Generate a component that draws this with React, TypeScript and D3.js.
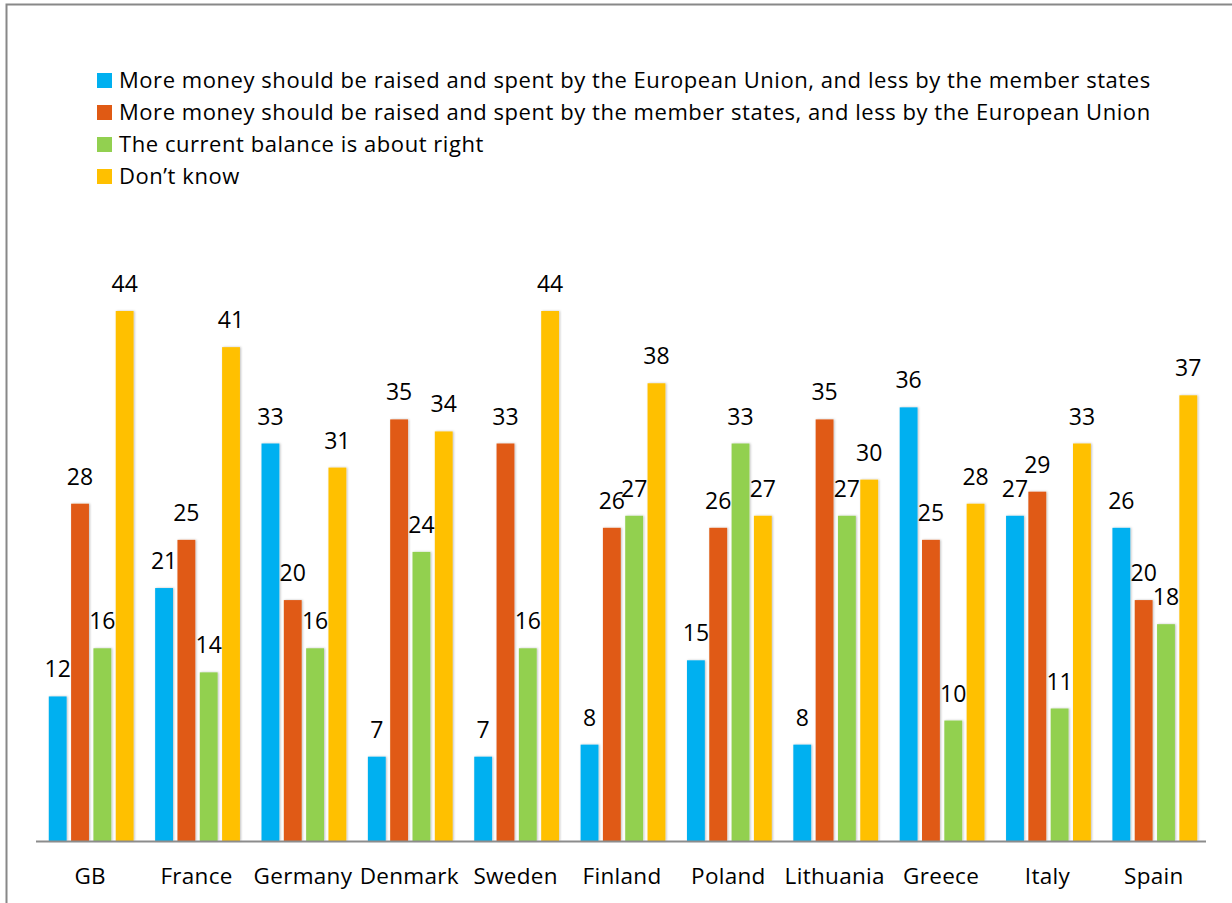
import React, { useEffect, useRef } from "react";
import * as d3 from "d3";

// countries along the x axis
const countries = [
  "GB", "France", "Germany", "Denmark", "Sweden", "Finland",
  "Poland", "Lithuania", "Greece", "Italy", "Spain",
];

const seriesNames = [
  "More money should be raised and spent by the European Union, and less by the member states",
  "More money should be raised and spent by the member states, and less by the European Union",
  "The current balance is about right",
  "Don\u2019t know",
];

const moreEU = [12, 21, 33, 7, 7, 8, 15, 8, 36, 27, 26];
const moreStates = [28, 25, 20, 35, 33, 26, 26, 35, 25, 29, 20];
const balanceRight = [16, 14, 16, 24, 16, 27, 33, 27, 10, 11, 18];
const dontKnow = [44, 41, 31, 34, 44, 38, 27, 30, 28, 33, 37];

const colors = ["#00B0F0", "#E05A14", "#92D050", "#FFC000"];

export default function App() {
  const ref = useRef<SVGGElement>(null);

  useEffect(() => {
    const svg = d3.select(ref.current);
    svg.selectAll("*").remove();
    const font = "'Open Sans', sans-serif";

    const series = [moreEU, moreStates, balanceRight, dontKnow];

    // chart frame, top and left edges show
    svg.append("rect")
      .attr("x", 6.5).attr("y", 4.5)
      .attr("width", 1300).attr("height", 1000)
      .attr("fill", "none")
      .attr("stroke", "#888")
      .attr("stroke-width", 2);

    const x0 = d3.scaleBand<string>().domain(countries).range([36, 1206]).paddingInner(0).paddingOuter(0);
    const x1 = d3.scaleBand<number>().domain([0, 1, 2, 3]).range([0, 84.8]).paddingInner(0.2).paddingOuter(0);
    const y = d3.scaleLinear().domain([0, 44]).range([841, 311]);

    const defs = svg.append("defs");
    const filter = defs.append("filter").attr("id", "shadow").attr("x", "-30%").attr("y", "-5%").attr("width", "160%").attr("height", "110%");
    filter.append("feDropShadow")
      .attr("dx", 1).attr("dy", 0).attr("stdDeviation", 1.3)
      .attr("flood-color", "#000").attr("flood-opacity", 0.25);

    const groupOffset = (x0.bandwidth() - 84.8) / 2 + 2;

    const groups = svg.append("g")
      .selectAll("g")
      .data(countries)
      .join("g")
      .attr("transform", (d) => `translate(${(x0(d) ?? 0) + groupOffset},0)`);

    groups.selectAll("rect")
      .data((_, i) => series.map((s, k) => ({ k, v: s[i] })))
      .join("rect")
      .attr("x", (d) => x1(d.k) ?? 0)
      .attr("width", x1.bandwidth())
      .attr("y", (d) => y(d.v))
      .attr("height", (d) => y(0) - y(d.v))
      .attr("fill", (d) => colors[d.k])
      .attr("filter", "url(#shadow)");

    groups.selectAll("text")
      .data((_, i) => series.map((s, k) => ({ k, v: s[i] })))
      .join("text")
      .attr("x", (d) => (x1(d.k) ?? 0) + x1.bandwidth() / 2)
      .attr("y", (d) => y(d.v) - 19)
      .attr("text-anchor", "middle")
      .attr("font-family", font)
      .attr("font-size", 23)
      .attr("fill", "#000")
      .text((d) => d.v);

    // baseline axis
    svg.append("line")
      .attr("x1", 36).attr("x2", 1206)
      .attr("y1", y(0) + 0.5).attr("y2", y(0) + 0.5)
      .attr("stroke", "#8c8c8c")
      .attr("stroke-width", 2);

    svg.append("g")
      .selectAll("text")
      .data(countries)
      .join("text")
      .attr("x", (d) => (x0(d) ?? 0) + x0.bandwidth() / 2 + 1)
      .attr("y", 884)
      .attr("text-anchor", "middle")
      .attr("font-family", font)
      .attr("font-size", 22.5)
      .attr("letter-spacing", 0.3)
      .attr("fill", "#000")
      .text((d) => d);

    // legend
    const legend = svg.append("g")
      .selectAll("g")
      .data(seriesNames)
      .join("g")
      .attr("transform", (_, i) => `translate(97,${73 + i * 32})`);
    legend.append("rect")
      .attr("width", 15).attr("height", 15)
      .attr("fill", (_, i) => colors[i]);
    legend.append("text")
      .attr("x", 22).attr("y", 15)
      .attr("font-family", font)
      .attr("font-size", 22)
      .attr("letter-spacing", 0.55)
      .attr("fill", "#000")
      .text((d) => d);
  }, []);

  return (
    <svg
      width={1232}
      height={903}
      style={{ display: "block", position: "fixed", left: 0, top: 0, background: "#fff" }}
    >
      <g ref={ref}></g>
    </svg>
  );
}
